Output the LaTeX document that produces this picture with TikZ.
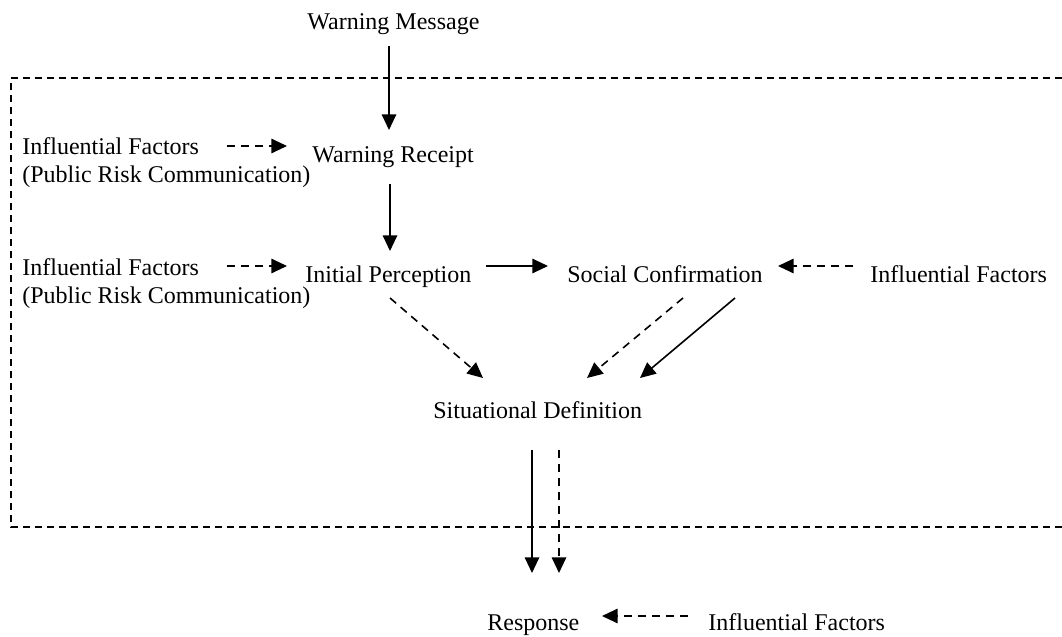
\documentclass[tikz,border=0pt]{standalone}
\usepackage{fontspec}
\setmainfont{Liberation Serif}
\usetikzlibrary{arrows.meta,calc}
\begin{document}
\begin{tikzpicture}[x=0.5pt,y=-0.5pt,
  lbl/.style={anchor=base west,inner sep=0pt,font=\fontsize{12}{14}\selectfont},
  arr/.style={line width=0.8pt,-{Triangle[length=7.8pt,width=7.2pt]}},
  darr/.style={arr,dash pattern=on 4pt off 3pt},
  boxline/.style={line width=0.8pt,dash pattern=on 3.5pt off 2.5pt}]
\useasboundingbox (0,0) rectangle (1062,637);
% boundary of the warning process (open on the right)
\draw[boxline] (1062,78) -- (11,78) -- (11,527) -- (1062,527);
% stages
\node[lbl] (wm) at (307,30) {Warning Message};
\node[lbl] (wr) at (312,162) {Warning Receipt};
\node[lbl] (ip) at (305,282) {Initial Perception};
\node[lbl] (sc) at (567,282) {Social Confirmation};
\node[lbl] (sd) at (433,418) {Situational Definition};
\node[lbl] (rs) at (487,630) {Response};
% influencing factors (base anchor sits on the second line)
\node[lbl,align=left] (f1) at (22,182) {Influential Factors\\(Public Risk Communication)};
\node[lbl,align=left] (f2) at (22,303) {Influential Factors\\(Public Risk Communication)};
\node[lbl] (f3) at (870,282) {Influential Factors};
\node[lbl] (f4) at (708,630) {Influential Factors};
% main flow
\draw[arr] ($(wm.base west)+(82,16)$) -- ($(wr.base west)+(77,-32)$);
\draw[arr] ($(wr.base west)+(78,22)$) -- ($(ip.base west)+(85,-31)$);
\draw[arr] ($(ip.base west)+(181,-16)$) -- ($(sc.base west)+(-19,-16)$);
\draw[darr] ($(ip.base west)+(85,16)$) -- ($(sd.base west)+(50,-40)$);
\draw[darr] ($(sc.base west)+(116,16)$) -- ($(sd.base west)+(154,-40)$);
\draw[arr] ($(sc.base west)+(168,16)$) -- ($(sd.base west)+(207,-40)$);
\draw[arr] ($(sd.base west)+(99,32)$) -- ($(rs.base west)+(45,-57)$);
\draw[darr] ($(sd.base west)+(126,32)$) -- ($(rs.base west)+(72,-57)$);
% factor arrows
\draw[darr] ($(f1.base west)+(205,-36)$) -- ($(wr.base west)+(-25,-16)$);
\draw[darr] ($(f2.base west)+(205,-37)$) -- ($(ip.base west)+(-18,-16)$);
\draw[darr] ($(f3.base west)+(-17,-16)$) -- ($(sc.base west)+(211,-16)$);
\draw[darr] ($(f4.base west)+(-20,-14)$) -- ($(rs.base west)+(115,-14)$);
\end{tikzpicture}
\end{document}
